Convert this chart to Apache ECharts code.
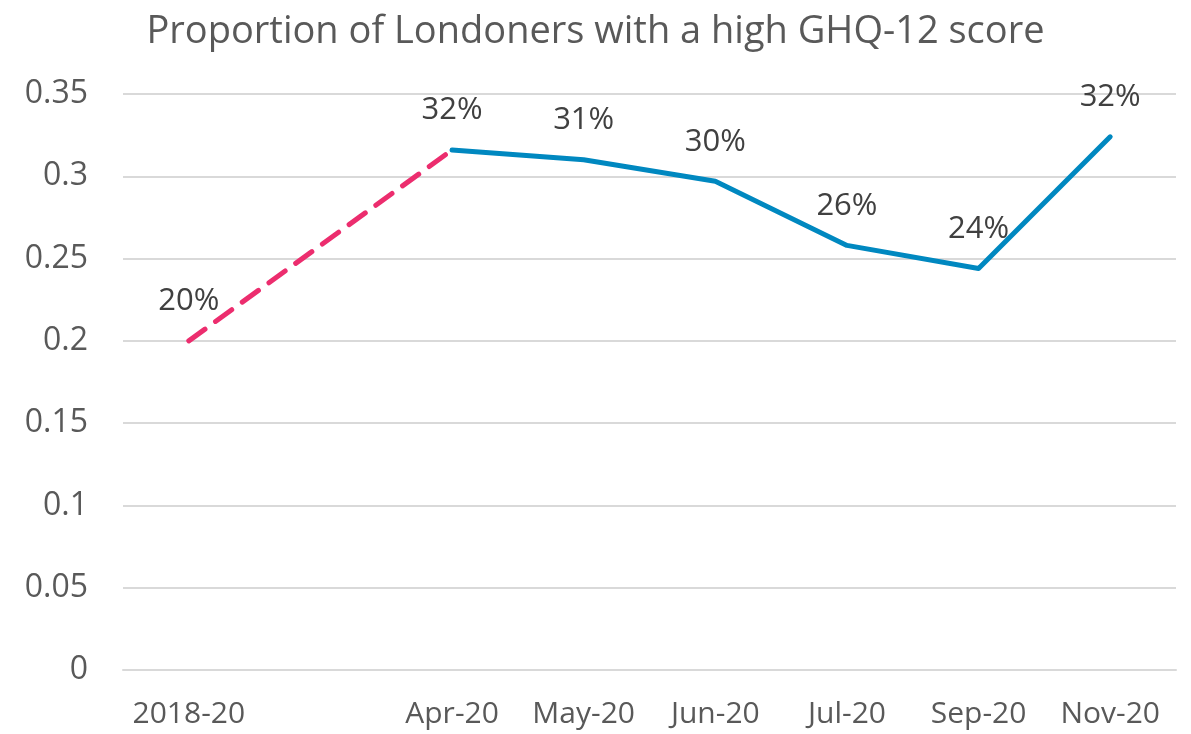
<!DOCTYPE html>
<html><head><meta charset="utf-8">
<script src="https://cdn.jsdelivr.net/npm/echarts@6/dist/echarts.min.js"></script>
<style>html,body{margin:0;padding:0;background:#fff}#c{width:1191px;height:734px}</style>
</head><body><div id="c"></div>
<script>
const categories = ['2018-20', '', 'Apr-20', 'May-20', 'Jun-20', 'Jul-20', 'Sep-20', 'Nov-20'];
const baselineValues = [0.200, '-', 0.316, '-', '-', '-', '-', '-'];
const covidValues = ['-', '-', 0.316, 0.310, 0.297, 0.258, 0.244, 0.324];
const yTicks = [0, 0.05, 0.1, 0.15, 0.2, 0.25, 0.3, 0.35];
const titleText = 'Proportion of Londoners with a high GHQ-12 score';

const FONT = 'Open Sans';
const chart = echarts.init(document.getElementById('c'), null, {renderer: 'canvas'});
const pct = p => Math.round(p.value * 100) + '%';
chart.setOption({
  animation: false,
  backgroundColor: '#fff',
  title: {
    text: titleText, left: 'center', top: 8,
    textStyle: {fontFamily: FONT, fontSize: 38, fontWeight: 'normal', color: '#595959'}
  },
  grid: {left: 123, right: 15, top: 94, bottom: 64, containLabel: false},
  xAxis: {
    type: 'category', data: categories, boundaryGap: true,
    axisLine: {lineStyle: {color: '#d9d9d9', width: 2}},
    axisTick: {show: false},
    axisLabel: {fontFamily: FONT, fontSize: 30, color: '#595959', margin: 29, interval: 0}
  },
  yAxis: {
    type: 'value', min: yTicks[0], max: yTicks[yTicks.length - 1], interval: 0.05,
    axisLine: {show: false}, axisTick: {show: false},
    splitLine: {lineStyle: {color: '#d9d9d9', width: 2}},
    axisLabel: {fontFamily: FONT, fontSize: 32, color: '#595959', margin: 35,
      formatter: v => String(+v.toFixed(2))}
  },
  series: [
    {
      type: 'line', data: baselineValues, connectNulls: true,
      symbol: 'circle', symbolSize: 0, showSymbol: true,
      lineStyle: {color: '#EC2D6E', width: 5, type: [20, 13], cap: 'round'},
      itemStyle: {color: '#EC2D6E'},
      label: {show: true, position: 'top', distance: 24, fontFamily: FONT, fontSize: 31, color: '#404040',
        formatter: p => p.dataIndex === 0 ? pct(p) : ''},
      z: 3
    },
    {
      type: 'line', data: covidValues,
      symbol: 'circle', symbolSize: 0, showSymbol: true,
      lineStyle: {color: '#0088C0', width: 5, cap: 'round', join: 'round'},
      itemStyle: {color: '#0088C0'},
      label: {show: true, position: 'top', distance: 24, fontFamily: FONT, fontSize: 31, color: '#404040',
        formatter: pct},
      z: 4
    }
  ]
});
</script></body></html>
